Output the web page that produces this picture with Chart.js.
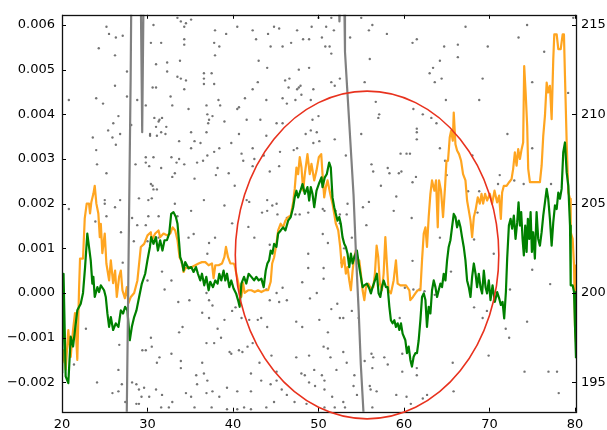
<!DOCTYPE html>
<html><head><meta charset="utf-8">
<script src="https://cdn.jsdelivr.net/npm/chart.js@4.4.1/dist/chart.umd.min.js"></script>
<style>html,body{margin:0;padding:0;background:#fff;overflow:hidden}#wrap{width:607px;height:430px;position:relative}</style>
</head><body><div id="wrap"><canvas id="c" width="607" height="430"></canvas></div>
<script>
const xTicks = [20,30,40,50,60,70,80];
const leftTicks = [-0.002,-0.001,0,0.001,0.002,0.003,0.004,0.005,0.006];
const rightTicks = [195,200,205,210,215];
const xRange = [20, 80.12];
const leftRange = [-0.00266, 0.00623];
const rightRange = [193.36, 215.57];

const orangeX = [20.04,20.23,20.43,20.74,21.02,21.29,21.52,21.79,21.99,22.11,22.46,22.66,22.89,23.16,23.28,23.43,23.67,23.83,24.02,24.25,24.42,24.54,24.72,25.0,25.19,25.51,25.71,25.98,26.21,26.41,26.68,26.88,27.07,27.35,27.58,27.77,28.05,28.44,28.82,29.22,29.61,30.0,30.39,30.51,30.9,31.29,31.48,31.87,32.27,32.66,32.93,33.24,33.51,33.75,34.03,34.22,34.41,34.8,35.2,35.59,35.97,36.37,36.76,37.15,37.54,37.73,37.93,38.32,38.72,38.99,39.18,39.42,39.69,40.07,40.19,40.59,40.98,41.18,41.36,41.76,42.15,42.54,42.93,43.32,43.71,44.11,44.41,44.58,44.81,45.08,45.28,45.58,45.86,46.13,46.45,46.75,47.04,47.22,47.42,47.62,47.81,48.01,48.21,48.4,48.71,48.98,49.18,49.5,49.77,50.04,50.32,50.47,50.67,50.86,51.06,51.37,51.64,51.84,52.03,52.31,52.54,52.73,53.01,53.2,53.4,53.6,53.79,53.99,54.18,54.37,54.57,54.77,54.96,55.16,55.36,55.55,55.83,56.13,56.41,56.6,56.8,56.99,57.18,57.42,57.62,57.82,58.0,58.2,58.47,58.79,59.06,59.26,59.58,59.84,60.23,60.63,60.74,61.05,61.33,61.6,61.92,62.11,62.31,62.51,62.69,62.89,63.09,63.28,63.56,63.75,63.95,64.1,64.33,64.57,64.8,64.97,65.15,65.35,65.51,65.71,65.82,66.02,66.21,66.44,66.68,66.91,67.19,67.38,67.58,67.78,67.97,68.17,68.37,68.63,68.87,69.07,69.26,69.49,69.72,70.04,70.31,70.59,70.89,71.13,71.33,71.48,71.68,72.0,72.3,72.58,72.77,72.97,73.17,73.36,73.56,73.76,73.94,74.06,74.23,74.41,74.53,74.73,75.11,75.51,75.9,76.1,76.29,76.49,76.69,76.87,77.07,77.27,77.46,77.58,77.86,78.05,78.33,78.56,78.71,78.83,79.03,79.22,79.42,79.5,79.73,79.89,80.0,80.12];
const orangeY = [-0.00157,-0.00128,-0.00172,-0.00083,-0.00143,-0.00083,-0.00045,-0.0015,0.00006,0.00077,0.00077,0.00167,0.002,0.002,0.00178,0.00203,0.00222,0.0024,0.002,0.00178,0.00125,0.00155,0.00089,0.00133,0.00066,0.00028,0.00073,0.00022,0.0005,-0.00009,0.00036,0.0005,0.00006,-0.00012,0.00013,-0.00023,-0.00009,0,0.00028,0.00103,0.0011,0.00129,0.00136,0.00118,0.00133,0.0014,0.00125,0.00133,0.00129,0.00133,0.00147,0.0014,0.00118,0.0008,0.00069,0.00047,0.00055,0.00058,0.00058,0.00062,0.00066,0.00069,0.00069,0.00062,0.00066,0.00033,0.00062,0.00062,0.00066,0.0008,0.00103,0.0008,0.00066,0.00066,0.00062,0.00025,-0.00009,0.00022,0,0.00006,0.00006,0.00002,0.00006,0.00002,0.00006,0.00006,0.00025,0.00066,0.0008,0.0011,0.0014,0.00155,0.00147,0.00162,0.0017,0.00173,0.00203,0.00233,0.00281,0.00266,0.00304,0.00281,0.00229,0.00266,0.00311,0.00266,0.00289,0.00252,0.00274,0.00304,0.00311,0.00266,0.00214,0.00237,0.00252,0.00222,0.002,0.00177,0.00155,0.0014,0.00103,0.00058,0.0008,0.00043,0.00058,0.00028,0.00006,0.0005,0.0008,0.00095,0.00066,0.00073,0.00043,0.00006,-0.00016,0.00013,0.00021,0.0001,0.00013,0.00043,0.00106,0.0008,0.00021,0.00006,0.00043,0.00125,0.00066,0.00006,-0.00001,0.00028,0.00073,0.00021,0.00017,0.00017,0.00017,0.00006,-0.00016,-0.00009,-0.00001,0.00006,0.00006,0.00073,0.00133,0.00147,0.00103,0.0017,0.00222,0.00252,0.00229,0.00252,0.00147,0.00252,0.00229,0.0017,0.00237,0.00296,0.00296,0.00348,0.00363,0.00341,0.00404,0.00333,0.00319,0.00311,0.00296,0.00266,0.00252,0.00207,0.00185,0.00162,0.00125,0.0017,0.00185,0.00214,0.002,0.00222,0.002,0.00222,0.00207,0.00222,0.002,0.00229,0.00203,0.00218,0.00166,0.00225,0.0024,0.0024,0.00248,0.00255,0.00278,0.00315,0.00285,0.00322,0.003,0.00322,0.00337,0.00508,0.00449,0.00374,0.00278,0.00248,0.00248,0.00248,0.00248,0.00285,0.00352,0.00397,0.00471,0.00449,0.00464,0.00389,0.00523,0.00579,0.00579,0.00546,0.00546,0.00579,0.00579,0.00486,0.00337,0.00225,0.00211,0.00136,0.00121,0.00062,-0.00072,-0.0011];

const greenX = [20.02,20.18,20.43,20.74,21.02,21.29,21.52,21.79,22.19,22.46,22.7,22.96,23.16,23.36,23.55,23.67,23.83,24.14,24.34,24.54,24.92,25.12,25.31,25.51,25.71,25.98,26.29,26.6,26.88,27.15,27.38,27.65,27.93,28.17,28.44,28.71,29.02,29.34,29.73,29.99,30.28,30.43,30.7,30.98,31.22,31.48,31.75,31.99,32.27,32.54,32.77,33.04,33.32,33.51,33.71,33.83,34.03,34.22,34.41,34.8,35.12,35.39,35.67,35.9,36.17,36.37,36.64,36.88,37.15,37.34,37.66,37.93,38.2,38.4,38.63,38.9,39.1,39.3,39.57,39.8,40.07,40.36,40.59,40.78,40.98,41.29,41.56,41.83,42.15,42.47,42.73,43.0,43.32,43.59,43.83,44.02,44.22,44.41,44.61,44.81,45.08,45.28,45.58,45.86,46.13,46.45,46.75,47.04,47.22,47.42,47.62,47.89,48.13,48.4,48.71,48.91,49.1,49.3,49.5,49.77,50.04,50.35,50.47,50.74,50.97,51.25,51.44,51.64,51.84,52.03,52.23,52.43,52.61,52.81,53.01,53.2,53.4,53.6,53.79,53.99,54.18,54.49,54.77,54.96,55.16,55.36,55.66,55.94,56.13,56.33,56.6,56.83,57.03,57.23,57.42,57.62,57.89,58.09,58.29,58.47,58.67,58.87,59.06,59.26,59.46,59.65,59.84,60.16,60.35,60.55,60.75,60.93,61.13,61.33,61.52,61.72,61.92,62.11,62.31,62.51,62.69,62.89,63.09,63.28,63.48,63.68,63.87,64.06,64.26,64.45,64.65,64.85,65.04,65.23,65.43,65.62,65.82,66.02,66.21,66.41,66.61,66.79,66.99,67.19,67.38,67.58,67.78,67.97,68.17,68.37,68.55,68.75,68.95,69.14,69.34,69.54,69.72,69.92,70.12,70.36,70.63,70.9,71.13,71.33,71.53,71.72,71.92,72.07,72.27,72.47,72.65,72.85,73.05,73.24,73.4,73.56,73.71,73.87,74.02,74.18,74.34,74.49,74.65,74.81,74.96,75.11,75.31,75.51,75.7,75.9,76.1,76.29,76.49,76.69,76.87,77.07,77.27,77.46,77.66,77.86,78.05,78.24,78.44,78.63,78.83,79.03,79.22,79.42,79.5,79.73,79.89,80.0,80.12];
const greenY = [-0.0018,0.00043,-0.00187,-0.00202,-0.00098,-0.0012,-0.00083,-0.00039,-0.00024,0,0.00058,0.00133,0.00103,0.00073,0.00021,0.00036,-0.00009,0.00013,0.00002,0.00017,0.00006,-0.00009,-0.00046,-0.00076,-0.00054,-0.00083,-0.00068,-0.00076,-0.00039,-0.00046,-0.00031,-0.00039,-0.00106,-0.00076,-0.00054,-0.00039,-0.00009,0.00021,0.00043,0.00073,0.00103,0.00125,0.0011,0.00125,0.00095,0.00118,0.00095,0.00118,0.00118,0.00133,0.00177,0.00181,0.0017,0.00155,0.0011,0.0008,0.00069,0.0005,0.00069,0.00055,0.00058,0.00047,0.00058,0.00043,0.00028,0.00043,0.00017,0.00036,0.00006,0.00025,0.00013,0.00028,0.00021,0.00043,0.00028,0.0005,0.00028,0.00043,0.00013,0.00028,0.0001,-0.00001,-0.00016,-0.00031,0.00021,0.00036,0.00021,0.00043,0.00036,0.00028,0.00036,0.00028,0.00032,0.00013,0.0005,0.00066,0.00073,0.00095,0.00088,0.0011,0.00103,0.00133,0.0014,0.00147,0.0014,0.00162,0.0017,0.00192,0.00214,0.00229,0.00214,0.00229,0.00244,0.00222,0.00237,0.00207,0.00237,0.00222,0.00192,0.00229,0.00244,0.00259,0.00237,0.00259,0.00266,0.00292,0.00281,0.00214,0.00192,0.00177,0.00162,0.0017,0.00155,0.00125,0.0011,0.00103,0.00088,0.00058,0.00088,0.00066,0.0008,0.00095,0.00058,0.00036,0.00013,0.00017,0.00021,0.0001,-0.00001,0.00013,0.00028,0.00043,-0.00001,-0.00009,0.00013,0.00028,0.00013,0.00013,-0.00031,-0.00061,-0.00068,-0.00061,-0.00076,-0.00068,-0.00083,-0.00068,-0.00091,-0.00106,-0.00135,-0.0012,-0.0015,-0.00165,-0.00143,-0.00135,-0.00135,-0.00106,-0.00061,-0.00009,-0.00001,-0.00016,-0.00076,-0.00031,-0.00046,0.00006,0.00028,0.00013,-0.00009,0.00006,0.00021,0.00013,0.00043,0.00028,0.00073,0.00103,0.00118,0.00147,0.00177,0.0017,0.00147,0.00162,0.00147,0.00125,0.00103,0.00073,0.00028,0.00013,-0.00009,0.00036,0.00066,0.00043,0.00013,0.00043,0.00013,-0.00001,0.0005,0.00013,-0.00001,0.00028,-0.00016,0.00017,-0.0002,0.00002,-0.00012,-0.00027,-0.0002,-0.00057,0.00002,0.00077,0.00151,0.00166,0.00144,0.00173,0.00121,0.00158,0.00203,0.00151,0.00181,0.00121,0.00084,0.00151,0.00092,0.00166,0.00121,0.00181,0.00092,0.00136,0.00077,0.00181,0.00121,0.00106,0.00136,0.00173,0.00203,0.00233,0.00211,0.00166,0.00106,0.00158,0.00196,0.00188,0.00225,0.00211,0.00233,0.00315,0.00337,0.0027,0.0024,0.00151,0.00017,0.00017,0.00002,-0.00072,-0.00146];

const grayX = [25.0,27.35,28.03,28.25,29.1,29.38,29.65,31.0,52.3,52.45,52.55,52.7,53.0,53.1,53.35,53.6,53.85,54.1,54.4,54.7,54.95,55.3,55.6,57.0];
const grayY = [178,184,212,225,222,209,222,232,219,215.2,216.5,219,217,213.5,211.5,209.5,207.5,205.5,202,199,196,193,186,175];

const dots = [[20.8,210.8],[25.2,214.9],[25.5,214.5],[26.3,214.3],[27.1,214.4],[24.3,213.7],[26.2,213.3],[27.6,212.4],[26.2,211.6],[27.6,211.0],[24.0,210.9],[24.8,210.6],[26.6,209.9],[26.0,209.5],[25.4,209.1],[25.9,208.7],[26.8,208.9],[23.6,208.7],[26.3,208.3],[24.0,208.0],[24.1,207.2],[25.2,206.7],[20.8,204.7],[25.0,205.2],[25.0,205.0],[26.2,204.8],[26.8,205.2],[28.1,209.4],[28.8,210.8],[28.6,207.2],[29.8,210.5],[30.7,215.0],[30.4,214.0],[31.6,214.0],[31.0,212.8],[32.3,212.9],[32.3,212.4],[30.6,211.5],[31.0,211.5],[32.7,211.0],[32.9,210.5],[30.8,209.8],[31.4,209.7],[31.7,209.8],[31.3,209.6],[31.0,209.3],[32.2,209.3],[30.3,208.9],[30.3,208.8],[31.1,208.8],[31.6,209.0],[32.1,208.9],[29.8,207.6],[29.8,207.3],[30.7,207.6],[30.2,207.1],[31.6,207.0],[32.8,207.6],[33.4,207.3],[33.7,207.5],[33.2,206.7],[32.9,206.5],[34.3,207.2],[30.4,206.1],[30.6,206.0],[30.7,205.8],[31.1,205.8],[29.0,205.3],[30.1,205.2],[30.5,205.3],[31.3,204.3],[33.2,205.0],[33.5,204.3],[35.1,204.6],[34.3,214.9],[33.9,215.2],[33.5,215.4],[34.5,215.1],[35.1,215.3],[34.3,214.2],[34.3,213.9],[33.8,213.0],[33.5,212.1],[33.9,212.0],[34.5,211.9],[34.3,211.4],[34.8,210.3],[35.1,209.0],[33.7,208.5],[35.1,208.1],[35.5,208.5],[35.8,207.3],[35.5,206.4],
[25.2,204.3],[23.9,204.0],[26.9,203.4],[27.1,201.7],[22.8,198.0],[26.7,197.1],[24.1,195.0],[25.9,194.4],[26.6,194.5],[27.0,194.9],[26.6,195.7],[27.4,193.9],[28.2,204.2],[28.8,203.8],[29.8,203.8],[30.1,204.3],[28.4,202.9],[30.0,202.9],[31.3,203.1],[30.0,200.7],[31.7,201.2],[32.0,200.2],[32.8,200.7],[33.6,199.5],[34.9,199.6],[35.4,203.3],[34.1,198.1],[33.7,197.8],[33.9,196.2],[33.9,195.8],[30.4,197.5],[30.5,197.0],[29.4,196.8],[29.8,196.8],[31.4,196.4],[31.1,196.1],[32.8,196.6],[28.2,195.0],[28.7,194.9],[29.0,194.6],[29.6,194.7],[29.3,194.2],[30.2,194.2],[31.0,194.6],[31.7,194.3],[28.7,193.8],[29.0,193.8],[31.6,193.6],[32.5,193.6],[32.9,193.9],[35.7,195.4],[35.8,194.9],[34.5,194.4],[35.1,194.2],[35.5,193.6],[34.8,203.1],[34.0,201.7],[21.4,196.0],
[40.5,214.9],[37.9,214.7],[39.2,214.5],[42.3,214.7],[44.1,214.5],[44.8,214.9],[45.4,214.8],[47.5,214.7],[49.2,214.9],[50.0,215.4],[50.9,214.9],[51.5,215.4],[51.8,214.7],[37.8,214.0],[38.4,213.8],[37.9,213.3],[42.7,214.2],[44.4,213.8],[45.8,213.8],[46.8,214.0],[48.2,214.2],[48.9,214.2],[50.4,214.3],[50.8,213.8],[51.3,213.8],[51.5,213.4],[43.0,213.0],[44.0,212.6],[47.7,212.5],[48.9,212.6],[36.6,212.3],[37.5,212.3],[36.6,212.0],[37.8,211.7],[36.6,211.7],[42.9,211.8],[42.3,211.4],[46.1,211.9],[46.6,212.0],[46.5,211.5],[47.7,211.5],[47.9,211.6],[47.5,211.4],[48.0,211.1],[49.4,211.4],[51.5,211.8],[52.5,212.0],[51.9,211.6],[55.4,211.8],[56.0,213.1],[56.3,215.0],[55.9,214.7],[58.0,214.5],[53.7,214.3],[55.0,215.4],[41.4,210.9],[43.9,210.8],[45.8,210.9],[47.3,210.8],[49.1,210.8],[46.3,210.6],[36.9,210.5],[38.3,210.8],[38.5,210.5],[40.5,210.3],[40.7,210.4],[37.0,210.0],[37.6,209.9],[37.2,209.7],[37.1,209.5],[39.0,209.6],[41.6,209.7],[43.2,209.7],[45.1,209.5],[45.8,209.5],[49.3,209.7],[50.0,209.9],[36.9,209.0],[40.7,208.9],[48.5,208.9],[49.1,209.1],[49.8,209.0],[50.1,208.5],[49.4,208.4],[51.9,208.6],[55.0,208.9],[56.7,210.7],[57.1,210.0],[57.0,209.8],[36.2,208.4],[39.8,208.4],[42.3,208.1],[43.9,208.8],[37.0,207.7],[37.8,207.9],[38.4,208.1],[41.0,207.8],[41.2,207.4],[42.3,207.1],[42.5,207.5],[43.6,207.7],[36.5,207.4],[38.2,207.0],[38.0,206.6],[39.5,206.7],[44.3,206.8],[45.4,207.1],[47.1,208.0],[47.5,208.1],[45.5,207.9],[53.2,207.7],[56.2,207.2],[56.4,206.8],[57.3,206.0],[58.1,207.0],[58.3,206.7],[59.4,206.7],[59.6,207.8],[60.7,207.8],[59.1,205.4],[58.8,204.6],[55.9,205.1],[55.2,204.8],[53.3,204.4],[53.4,205.0],[36.6,205.2],[39.0,204.9],[40.2,206.0],[41.6,205.2],[41.9,205.1],[43.4,204.5],[44.0,205.2],[44.6,204.9],[45.1,205.0],[46.3,204.2],[47.3,204.4],[48.8,204.5],[50.5,204.7],[50.7,204.6],[52.0,204.6],[52.5,204.4],
[37.2,202.8],[37.9,203.1],[37.0,202.2],[39.9,203.9],[41.8,203.7],[42.5,203.1],[44.0,204.6],[44.3,202.7],[45.2,204.4],[47.8,204.4],[50.5,203.3],[51.1,202.8],[52.5,203.9],[53.9,203.1],[48.8,202.2],[48.8,201.4],[50.6,201.4],[50.6,200.8],[49.8,200.0],[49.0,199.7],[48.1,200.6],[52.7,201.7],[53.0,202.5],[55.6,203.8],[45.1,200.0],[45.4,199.5],[45.8,200.3],[44.3,199.6],[46.3,199.6],[43.9,200.2],[36.9,200.0],[37.2,199.6],[36.4,198.9],[37.6,199.3],[37.2,198.6],[38.2,198.0],[39.0,198.5],[39.9,199.0],[40.3,199.2],[41.0,198.6],[41.9,198.5],[42.9,198.5],[43.3,198.6],[44.0,198.1],[47.4,198.4],[48.1,198.1],[50.1,198.5],[51.1,197.8],[51.5,199.1],[52.2,199.4],[52.5,198.6],[53.9,199.0],[52.9,198.6],[54.7,198.6],[36.9,197.2],[37.8,197.2],[38.6,197.5],[39.6,196.7],[39.8,196.6],[40.7,196.8],[41.1,196.7],[41.7,197.0],[42.3,197.2],[43.1,196.1],[44.5,196.5],[45.1,195.6],[47.4,196.4],[48.9,196.5],[50.6,197.0],[51.1,196.9],[51.4,196.4],[52.9,196.7],[53.3,196.1],[52.1,195.7],[55.4,196.2],[56.2,196.6],[56.4,196.4],[56.3,195.8],[57.7,196.4],[58.1,196.0],[36.4,196.1],[36.6,195.5],[37.0,195.1],[37.6,194.5],[38.4,194.2],[36.9,194.4],[39.3,194.7],[40.5,194.5],[42.1,194.5],[42.1,195.5],[43.3,195.1],[44.4,194.9],[45.1,195.1],[45.7,194.6],[46.3,194.3],[48.0,195.5],[48.4,195.4],[49.5,195.7],[48.9,195.0],[50.4,195.4],[50.7,195.1],[49.6,194.8],[50.7,194.6],[51.6,194.2],[51.9,193.6],[54.2,195.4],[54.1,194.8],[54.5,194.3],[52.9,193.9],[53.1,193.6],[56.0,194.8],[56.1,194.6],[56.8,194.5],[59.1,194.3],[44.8,193.9],[47.2,193.9],[48.6,193.8],[50.7,193.6],[43.9,193.6],[42.1,193.5],[40.5,193.5],[39.3,193.5],[41.3,193.6],[37.5,193.6],[59.8,195.6],[56.3,193.6],
[61.0,214.0],[61.5,214.2],[64.7,213.8],[66.3,213.9],[67.2,214.9],[69.8,213.8],[73.4,214.3],[74.4,215.0],[76.4,213.5],[64.2,213.0],[66.3,213.2],[63.4,212.6],[63.0,212.3],[64.4,212.0],[63.6,211.8],[69.2,212.0],[75.0,211.8],[64.9,210.8],[68.8,210.8],[79.2,211.2],[61.1,210.3],[62.2,210.0],[63.2,209.8],[63.8,209.5],[61.5,209.2],[61.5,209.0],[61.5,208.6],[64.2,208.1],[64.8,207.4],[68.0,207.7],[72.1,208.9],[75.0,208.1],[65.0,206.6],[67.5,205.7],[68.8,205.7],[69.2,205.3],[68.6,204.5],[71.2,206.6],[71.0,206.1],[72.9,206.3],[74.0,206.1],[77.2,206.1],[61.0,206.2],[61.4,206.5],[60.3,207.8],[59.7,206.8],[60.9,204.2],[79.8,215.4],
[61.0,201.8],[64.2,203.1],[68.2,203.0],[65.5,201.2],[70.5,202.2],[75.0,201.3],[77.1,200.5],[60.1,200.3],[61.1,200.2],[61.8,200.2],[62.4,200.1],[63.6,199.9],[68.2,199.2],[69.2,198.6],[69.7,199.0],[72.4,200.2],[74.4,198.4],[71.9,198.0],[72.3,197.5],[59.5,198.6],[59.8,196.6],[61.5,195.8],[61.5,195.4],[65.7,196.1],[69.9,196.5],[74.1,195.6],[76.9,195.6],[77.9,195.6],[78.1,194.4],[65.8,194.5],[60.3,194.2],[60.8,193.8],[62.2,194.1],[62.7,194.3]];

const ellipseCenter = [55.68, 0.00085];
const ellipseRadius = [15.41, 0.00367];

function pts(xs, ys){ return xs.map((x,i)=>({x:x, y:ys[i]})); }
function fmtLeft(v){ return (v < -1e-12 ? '\u2212' : '') + Math.abs(v).toFixed(3); }

Chart.defaults.font.family = "'DejaVu Sans', sans-serif";
Chart.defaults.font.size = 13;
Chart.defaults.color = '#000';

const framePlugin = {
  id: 'frame',
  afterDraw(chart){
    const {ctx, chartArea:a, scales} = chart;
    const x = scales.x, y = scales.y, y2 = scales.y2;
    ctx.save();
    ctx.strokeStyle = '#000';
    ctx.lineWidth = 1;
    const L = 4;
    ctx.beginPath();
    xTicks.forEach(v=>{ const p = Math.round(x.getPixelForValue(v)) + 0.5;
      ctx.moveTo(p, a.bottom); ctx.lineTo(p, a.bottom - L);
      ctx.moveTo(p, a.top); ctx.lineTo(p, a.top + L); });
    leftTicks.forEach(v=>{ const p = Math.round(y.getPixelForValue(v)) + 0.5;
      ctx.moveTo(a.left, p); ctx.lineTo(a.left + L, p); });
    rightTicks.forEach(v=>{ const p = Math.round(y2.getPixelForValue(v)) + 0.5;
      ctx.moveTo(a.right, p); ctx.lineTo(a.right - L, p); });
    ctx.stroke();
    ctx.lineWidth = 1.3;
    ctx.strokeStyle = '#111';
    ctx.strokeRect(Math.round(a.left)+0.5, Math.round(a.top)+0.5, Math.round(a.right - a.left), Math.round(a.bottom - a.top));
    const cx = x.getPixelForValue(ellipseCenter[0]);
    const cy = y.getPixelForValue(ellipseCenter[1]);
    const rx = Math.abs(x.getPixelForValue(ellipseCenter[0] + ellipseRadius[0]) - cx);
    const ry = Math.abs(y.getPixelForValue(ellipseCenter[1] + ellipseRadius[1]) - cy);
    ctx.beginPath();
    ctx.ellipse(cx, cy, rx, ry, 0, 0, Math.PI * 2);
    ctx.strokeStyle = '#e8321e';
    ctx.lineWidth = 1.6;
    ctx.stroke();
    ctx.restore();
  }
};

new Chart(document.getElementById('c'), {
  type: 'scatter',
  data: { datasets: [
    { label: 'gray', data: pts(grayX, grayY), yAxisID: 'y2', showLine: true, borderColor: '#808080', borderWidth: 2.2, pointRadius: 0, order: 0, borderJoinStyle: 'round' },
    { label: 'green', data: pts(greenX, greenY), yAxisID: 'y', showLine: true, borderColor: '#008000', borderWidth: 2.2, pointRadius: 0, order: 1, borderJoinStyle: 'round' },
    { label: 'orange', data: pts(orangeX, orangeY), yAxisID: 'y', showLine: true, borderColor: '#ffa520', borderWidth: 2.2, pointRadius: 0, order: 2, borderJoinStyle: 'round' },
    { label: 'dots', data: dots.map(d=>({x:d[0], y:d[1]})), yAxisID: 'y2', showLine: false, pointRadius: 1.2, pointBorderWidth: 0, backgroundColor: 'rgba(70,70,70,0.75)', borderColor: 'rgba(0,0,0,0)', order: 3 }
  ]},
  options: {
    responsive: false, animation: false, devicePixelRatio: 1, events: [],
    layout: { padding: { top: 14, left: 0, right: 0, bottom: 0 } },
    plugins: { legend: { display: false }, tooltip: { enabled: false } },
    scales: {
      x: { type: 'linear', min: xRange[0], max: xRange[1],
        grid: { display: false, drawTicks: false }, border: { display: false },
        ticks: { padding: 5, callback: v => String(v) },
        afterBuildTicks: s => { s.ticks = xTicks.map(v => ({ value: v })); },
        afterFit: s => { s.height = 18.3; } },
      y: { type: 'linear', position: 'left', min: leftRange[0], max: leftRange[1],
        grid: { display: false, drawTicks: false }, border: { display: false },
        ticks: { padding: 7, callback: v => fmtLeft(v) },
        afterBuildTicks: s => { s.ticks = leftTicks.map(v => ({ value: v })); },
        afterFit: s => { s.width = 62; } },
      y2: { type: 'linear', position: 'right', min: rightRange[0], max: rightRange[1],
        grid: { display: false, drawTicks: false }, border: { display: false },
        ticks: { padding: 5, callback: v => String(v) },
        afterBuildTicks: s => { s.ticks = rightTicks.map(v => ({ value: v })); },
        afterFit: s => { s.width = 31; } }
    }
  },
  plugins: [framePlugin]
});
</script></body></html>
